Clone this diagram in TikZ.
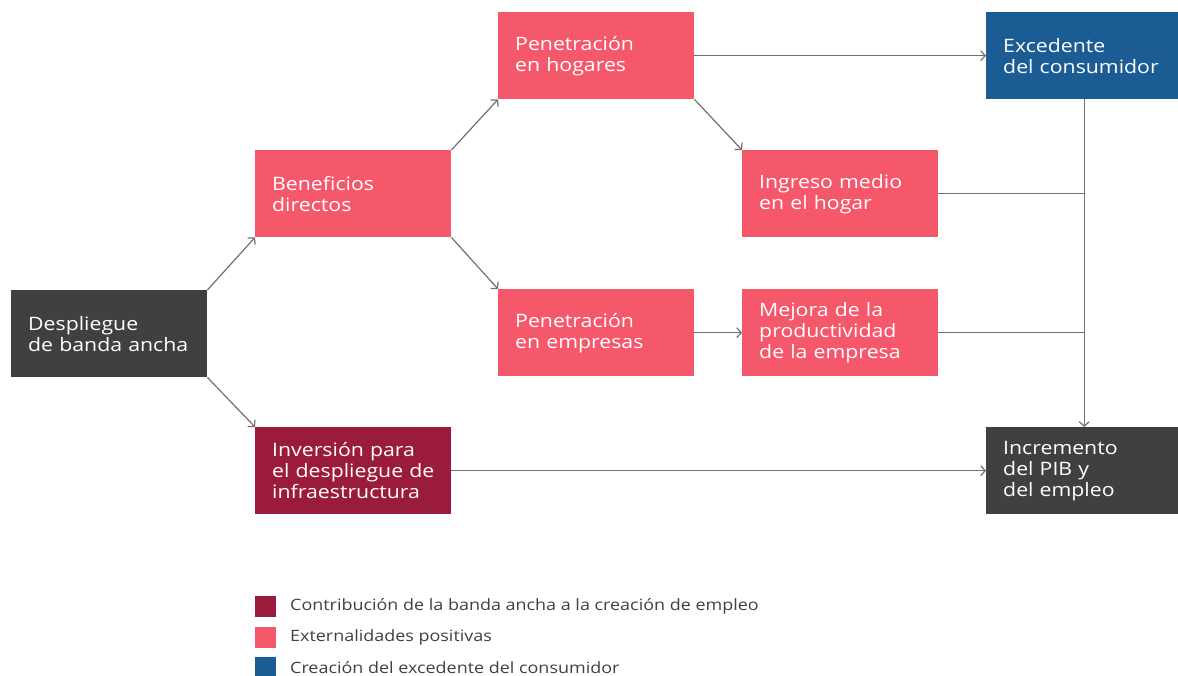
\documentclass[tikz,border=0pt]{standalone}
\usepackage{fontspec}
\setmainfont{Open Sans}[FakeStretch=1.15]
\usetikzlibrary{arrows.meta}
\definecolor{cdark}{HTML}{404040}
\definecolor{cpink}{HTML}{F5576B}
\definecolor{ccrim}{HTML}{9B1B3C}
\definecolor{cblue}{HTML}{1B5C94}
\definecolor{cline}{HTML}{707070}
\definecolor{ctext}{HTML}{404040}
\begin{document}
\begin{tikzpicture}[x=1pt,y=-1pt,
  box/.style={anchor=north west, minimum width=196pt, minimum height=87pt,
    text width=162pt, inner xsep=17pt, inner ysep=0pt, align=left, text=white,
    font=\fontsize{18.5}{21}\selectfont},
  conn/.style={draw=cline, line width=1.2pt},
  arr/.style={conn, -{Straight Barb[length=4.5pt,width=10pt]}},
  legsq/.style={anchor=north west, minimum width=21pt, minimum height=21pt, inner sep=0pt},
  legtx/.style={anchor=west, inner sep=0pt, text=ctext, font=\fontsize{15.6}{18}\selectfont}]
\useasboundingbox (0,0) rectangle (1178,676);
\clip (0,0) rectangle (1178,676);
\node[box, fill=cdark] (dep) at (11,290) {\mbox{Despliegue}\\\mbox{de banda ancha}};
\node[box, fill=cpink] (ben) at (255,150) {\mbox{Beneficios}\\\mbox{directos}};
\node[box, fill=ccrim] (inv) at (255,427) {\mbox{Inversión para}\\\mbox{el despliegue de}\\\mbox{infraestructura}};
\node[box, fill=cpink] (peh) at (498,12) {\mbox{Penetración}\\\mbox{en hogares}};
\node[box, fill=cpink] (pee) at (498,289) {\mbox{Penetración}\\\mbox{en empresas}};
\node[box, fill=cpink] (ing) at (742,150) {\mbox{Ingreso medio}\\\mbox{en el hogar}};
\node[box, fill=cpink] (mej) at (742,289) {\mbox{Mejora de la}\\\mbox{productividad}\\\mbox{de la empresa}};
\node[box, fill=cblue] (exc) at (986,12) {\mbox{Excedente}\\\mbox{del consumidor}};
\node[box, fill=cdark] (inc) at (986,427) {\mbox{Incremento}\\\mbox{del PIB y}\\\mbox{del empleo}};

\draw[arr] (dep.north east) -- (ben.south west);
\draw[arr] (dep.south east) -- (inv.north west);
\draw[arr] (ben.north east) -- (peh.south west);
\draw[arr] (ben.south east) -- (pee.north west);
\draw[arr] (peh.east) -- (exc.west);
\draw[arr] (peh.south east) -- (ing.north west);
\draw[arr] (pee.east) -- (mej.west);
\draw[arr] (inv.east) -- (inc.west);
\draw[arr] (exc.south) -- (inc.north);
\coordinate (j1) at (exc.south |- ing.east);
\coordinate (j2) at (exc.south |- mej.east);
\draw[conn] (ing.east) -- (j1);
\draw[conn] (mej.east) -- (j2);

\node[legsq, fill=ccrim] (l1) at (255,596) {};
\node[legsq, fill=cpink] (l2) at (255,627) {};
\node[legsq, fill=cblue] (l3) at (255,657) {};
\node[legtx] (t1) at (290,606.5) {Contribución de la banda ancha a la creación de empleo};
\node[legtx] (t2) at (290,637.5) {Externalidades positivas};
\node[legtx] (t3) at (290,667.5) {Creación del excedente del consumidor};
\end{tikzpicture}
\end{document}
